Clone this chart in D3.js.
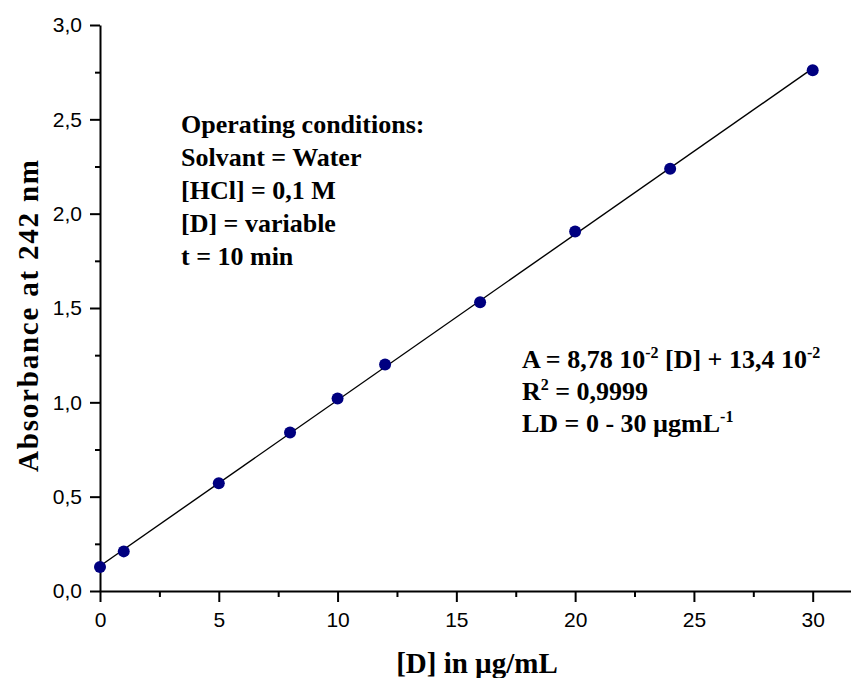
<!DOCTYPE html>
<meta charset="utf-8">
<style>
  body { margin: 0; background: #fff; }
  .tick text { font-family: "Liberation Sans", Arial, sans-serif; }
</style>
<script src="https://d3js.org/d3.v7.min.js"></script>
<div id="my_dataviz"></div>
<script>

// data
var concentrations = [0, 1, 5, 8, 10, 12, 16, 20, 24, 30];
var absorbances = [0.127, 0.21, 0.571, 0.84, 1.02, 1.20, 1.53, 1.905, 2.238, 2.76];
var xTicks = [0, 5, 10, 15, 20, 25, 30];
var yTicks = [0, 0.5, 1.0, 1.5, 2.0, 2.5, 3.0];
var conditionLines = ["Operating conditions:", "Solvant = Water", "[HCl] = 0,1 M", "[D] = variable", "t = 10 min"];

var W = 851, H = 678;
var margin = {top: 25, right: 0, bottom: 87, left: 100};
var width = W - margin.left - margin.right,
    height = H - margin.top - margin.bottom;

var serif = "'Liberation Serif', 'Times New Roman', serif";

var svg = d3.select("#my_dataviz")
  .append("svg")
    .attr("width", W)
    .attr("height", H)
  .append("g")
    .attr("transform", "translate(" + margin.left + "," + margin.top + ")");

// x: 30 sits at ~713px from origin, axis runs on past it to the edge
var pxPerUnit = 712.7 / 30;
var x = d3.scaleLinear()
  .domain([0, width / pxPerUnit])
  .range([0, width]);

var y = d3.scaleLinear()
  .domain([0, 3])
  .range([height, 0]);

var fmt = function(d) { return d3.format(".1f")(d).replace(".", ","); };

// minor ticks
var xMinor = d3.range(2.5, 31, 5);
var yMinor = d3.range(0.25, 3, 0.5);

svg.append("g")
  .attr("transform", "translate(0," + height + ")")
  .call(d3.axisBottom(x).tickValues(xMinor).tickSize(6).tickFormat(""))
  .call(function(g) { g.select(".domain").remove(); })
  .selectAll("line").attr("stroke-width", 2);

svg.append("g")
  .call(d3.axisLeft(y).tickValues(yMinor).tickSize(5).tickFormat(""))
  .call(function(g) { g.select(".domain").remove(); })
  .selectAll("line").attr("stroke-width", 2);

// X axis
var gx = svg.append("g")
  .attr("transform", "translate(0," + height + ")")
  .call(d3.axisBottom(x).tickValues(xTicks).tickSize(11).tickSizeOuter(0).tickPadding(10));
gx.select(".domain").attr("stroke-width", 2);
gx.selectAll(".tick line").attr("stroke-width", 2);
gx.selectAll(".tick text").style("font-size", "21px");

// Y axis
var gy = svg.append("g")
  .call(d3.axisLeft(y).tickValues(yTicks).tickFormat(fmt).tickSize(10).tickSizeOuter(0).tickPadding(8));
gy.select(".domain").attr("stroke-width", 2);
gy.selectAll(".tick line").attr("stroke-width", 2);
gy.selectAll(".tick text").style("font-size", "21px");

// least squares fit line
var n = concentrations.length;
var mx = d3.mean(concentrations), my = d3.mean(absorbances);
var sxy = d3.sum(concentrations, function(c, i) { return (c - mx) * (absorbances[i] - my); });
var sxx = d3.sum(concentrations, function(c) { return (c - mx) * (c - mx); });
var slope = sxy / sxx, intercept = my - slope * mx;
var xFit = [concentrations[0], concentrations[n - 1]];

svg.append("path")
  .datum(xFit)
  .attr("fill", "none")
  .attr("stroke", "black")
  .attr("stroke-width", 1.4)
  .attr("d", d3.line()
    .x(function(d) { return x(d); })
    .y(function(d) { return y(slope * d + intercept); }));

// points
svg.selectAll("mycircle")
  .data(concentrations)
  .enter()
  .append("circle")
    .attr("cx", function(d) { return x(d); })
    .attr("cy", function(d, i) { return y(absorbances[i]); })
    .attr("r", 6)
    .style("fill", "#000080");

// axis titles
svg.append("text")
  .attr("text-anchor", "middle")
  .attr("x", 377)
  .attr("y", height + 82)
  .style("font-family", serif)
  .style("font-weight", "bold")
  .style("font-size", "29px")
  .text("[D] in µg/mL");

svg.append("text")
  .attr("text-anchor", "middle")
  .attr("transform", "translate(-62," + (316 - margin.top) + ") rotate(-90)")
  .attr("textLength", 312)
  .attr("lengthAdjust", "spacing")
  .style("font-family", serif)
  .style("font-weight", "bold")
  .style("font-size", "29px")
  .text("Absorbance at 242 nm");

// operating conditions
svg.append("g")
  .selectAll("text")
  .data(conditionLines)
  .enter()
  .append("text")
    .attr("x", 81)
    .attr("y", function(d, i) { return 108 + i * 33; })
    .style("font-family", serif)
    .style("font-weight", "bold")
    .style("font-size", "26px")
    .text(function(d) { return d; });

// regression text
var eq = svg.append("g").style("font-family", serif).style("font-weight", "bold").style("font-size", "26px");
var t1 = eq.append("text").attr("x", 422).attr("y", 343);
t1.append("tspan").text("A = 8,78 10");
t1.append("tspan").attr("dy", -10).style("font-size", "16px").text("-2");
t1.append("tspan").attr("dy", 10).text(" [D] + 13,4 10");
t1.append("tspan").attr("dy", -10).style("font-size", "16px").text("-2");

var t2 = eq.append("text").attr("x", 422).attr("y", 375);
t2.append("tspan").text("R");
t2.append("tspan").attr("dy", -10).style("font-size", "16px").text("2");
t2.append("tspan").attr("dy", 10).text(" = 0,9999");

var t3 = eq.append("text").attr("x", 422).attr("y", 407);
t3.append("tspan").text("LD = 0 - 30 µgmL");
t3.append("tspan").attr("dy", -10).style("font-size", "16px").text("-1");

</script>
